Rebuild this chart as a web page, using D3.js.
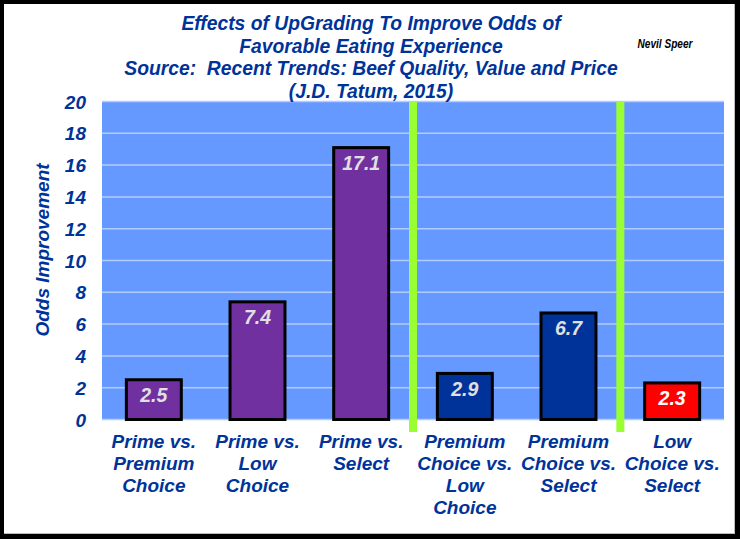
<!DOCTYPE html>
<html><head><meta charset="utf-8">
<script src="https://cdn.jsdelivr.net/npm/d3@7"></script>
<style>
html,body{margin:0;padding:0;background:#fff;}
svg{display:block;}
text{font-family:Arial,"Liberation Sans",sans-serif;white-space:pre;}
</style></head>
<body><svg id="chart" width="740" height="539"></svg>
<script>
const categories = [
  ["Prime vs.","Premium","Choice"],
  ["Prime vs.","Low","Choice"],
  ["Prime vs.","Select"],
  ["Premium","Choice vs.","Low","Choice"],
  ["Premium","Choice vs.","Select"],
  ["Low","Choice vs.","Select"]
];
const values = [2.5, 7.4, 17.1, 2.9, 6.7, 2.3];
const barColors = ["#7030a0","#7030a0","#7030a0","#003399","#003399","#ff0000"];
const labelColors = ["#e0e0e0","#e0e0e0","#e0e0e0","#e0e0e0","#e0e0e0","#ffffff"];
const yTicks = [0,2,4,6,8,10,12,14,16,18,20];
const separatorsAfter = [2, 4];
const titleLines = [
  "Effects of UpGrading To Improve Odds of",
  "Favorable Eating Experience",
  "Source:  Recent Trends: Beef Quality, Value and Price",
  "(J.D. Tatum, 2015)"
];
const yTitle = "Odds Improvement";
const author = "Nevil Speer";

const svg = d3.select("#chart");
const W = 740, H = 539;
const navy = "#003399";

// frame
svg.append("rect").attr("x",0).attr("y",0).attr("width",W).attr("height",H).attr("fill","#000");
svg.append("rect").attr("x",4).attr("y",4).attr("width",731).attr("height",529).attr("fill","#fff");
svg.append("line").attr("x1",734.5).attr("x2",734.5).attr("y1",4).attr("y2",533).attr("stroke","#bbb");
svg.append("line").attr("x1",4).attr("x2",735).attr("y1",533.5).attr("y2",533.5).attr("stroke","#bbb");

const m = {left:102, right:724, top:101.5, bottom:419.5};
const idx = categories.map((d,i)=>i);
const x = d3.scaleBand().domain(idx).range([m.left, m.right]).paddingInner(0.47).paddingOuter(0.235);
const y = d3.scaleLinear().domain([0,20]).range([m.bottom, m.top]);

// plot background
svg.append("rect").attr("x",m.left).attr("y",m.top).attr("width",m.right-m.left).attr("height",m.bottom-m.top).attr("fill","#6699ff");

// gridlines
svg.append("g").selectAll("line").data(yTicks).join("line")
  .attr("x1",m.left).attr("x2",m.right)
  .attr("y1",d=>y(d)).attr("y2",d=>y(d))
  .attr("stroke","#b3ccff").attr("stroke-width",1.5);

// y axis labels
const yAxis = d3.axisLeft(y).tickValues(yTicks).tickSize(0).tickPadding(0).tickFormat(d3.format("d"));
const gy = svg.append("g").attr("transform",`translate(86,0)`).call(yAxis);
gy.select(".domain").remove();
gy.selectAll("text").attr("fill",navy).attr("font-size",19).attr("font-weight","bold").attr("font-style","italic")
  .attr("font-family","Arial,'Liberation Sans',sans-serif").attr("dy","0.35em");

// separators
svg.append("g").selectAll("rect").data(separatorsAfter).join("rect")
  .attr("x",d=> (x(d)+x.bandwidth() + x(d+1))/2 - 4)
  .attr("y",m.top).attr("width",8).attr("height",432-m.top)
  .attr("fill","#99ff33");

// bars
svg.append("g").selectAll("rect").data(values).join("rect")
  .attr("x",(d,i)=>x(i)).attr("width",x.bandwidth())
  .attr("y",d=>y(d)).attr("height",d=>y(0)-y(d))
  .attr("fill",(d,i)=>barColors[i]).attr("stroke","#000").attr("stroke-width",3);

// value labels
svg.append("g").selectAll("text").data(values).join("text")
  .attr("x",(d,i)=>x(i)+x.bandwidth()/2).attr("y",d=>y(d)+22.5)
  .attr("text-anchor","middle").attr("fill",(d,i)=>labelColors[i])
  .attr("font-size",19.5).attr("font-weight","bold").attr("font-style","italic")
  .text(d=>d3.format(".1f")(d));

// category labels
const xg = svg.append("g");
categories.forEach((lines,i)=>{
  const t = xg.append("text").attr("text-anchor","middle").attr("fill",navy)
    .attr("font-size",19).attr("font-weight","bold").attr("font-style","italic");
  lines.forEach((ln,j)=>{
    t.append("tspan").attr("x",x(i)+x.bandwidth()/2).attr("y",448+j*22).text(ln);
  });
});

// y title
svg.append("text").attr("transform","translate(49,250) rotate(-90)")
  .attr("text-anchor","middle").attr("fill",navy)
  .attr("font-size",19).attr("font-weight","bold").attr("font-style","italic").text(yTitle);

// title
const tt = svg.append("text").attr("text-anchor","middle").attr("fill",navy)
  .attr("font-size",19.3).attr("font-weight","bold").attr("font-style","italic");
titleLines.forEach((ln,j)=>{
  tt.append("tspan").attr("x",371).attr("y",30+j*22.5).text(ln);
});

// author
svg.append("text").attr("x",665).attr("y",48).attr("text-anchor","middle")
  .attr("font-size",12.5).attr("font-weight","bold").attr("font-style","italic").attr("fill","#000")
  .attr("textLength",55).attr("lengthAdjust","spacingAndGlyphs").text(author);
</script></body></html>
